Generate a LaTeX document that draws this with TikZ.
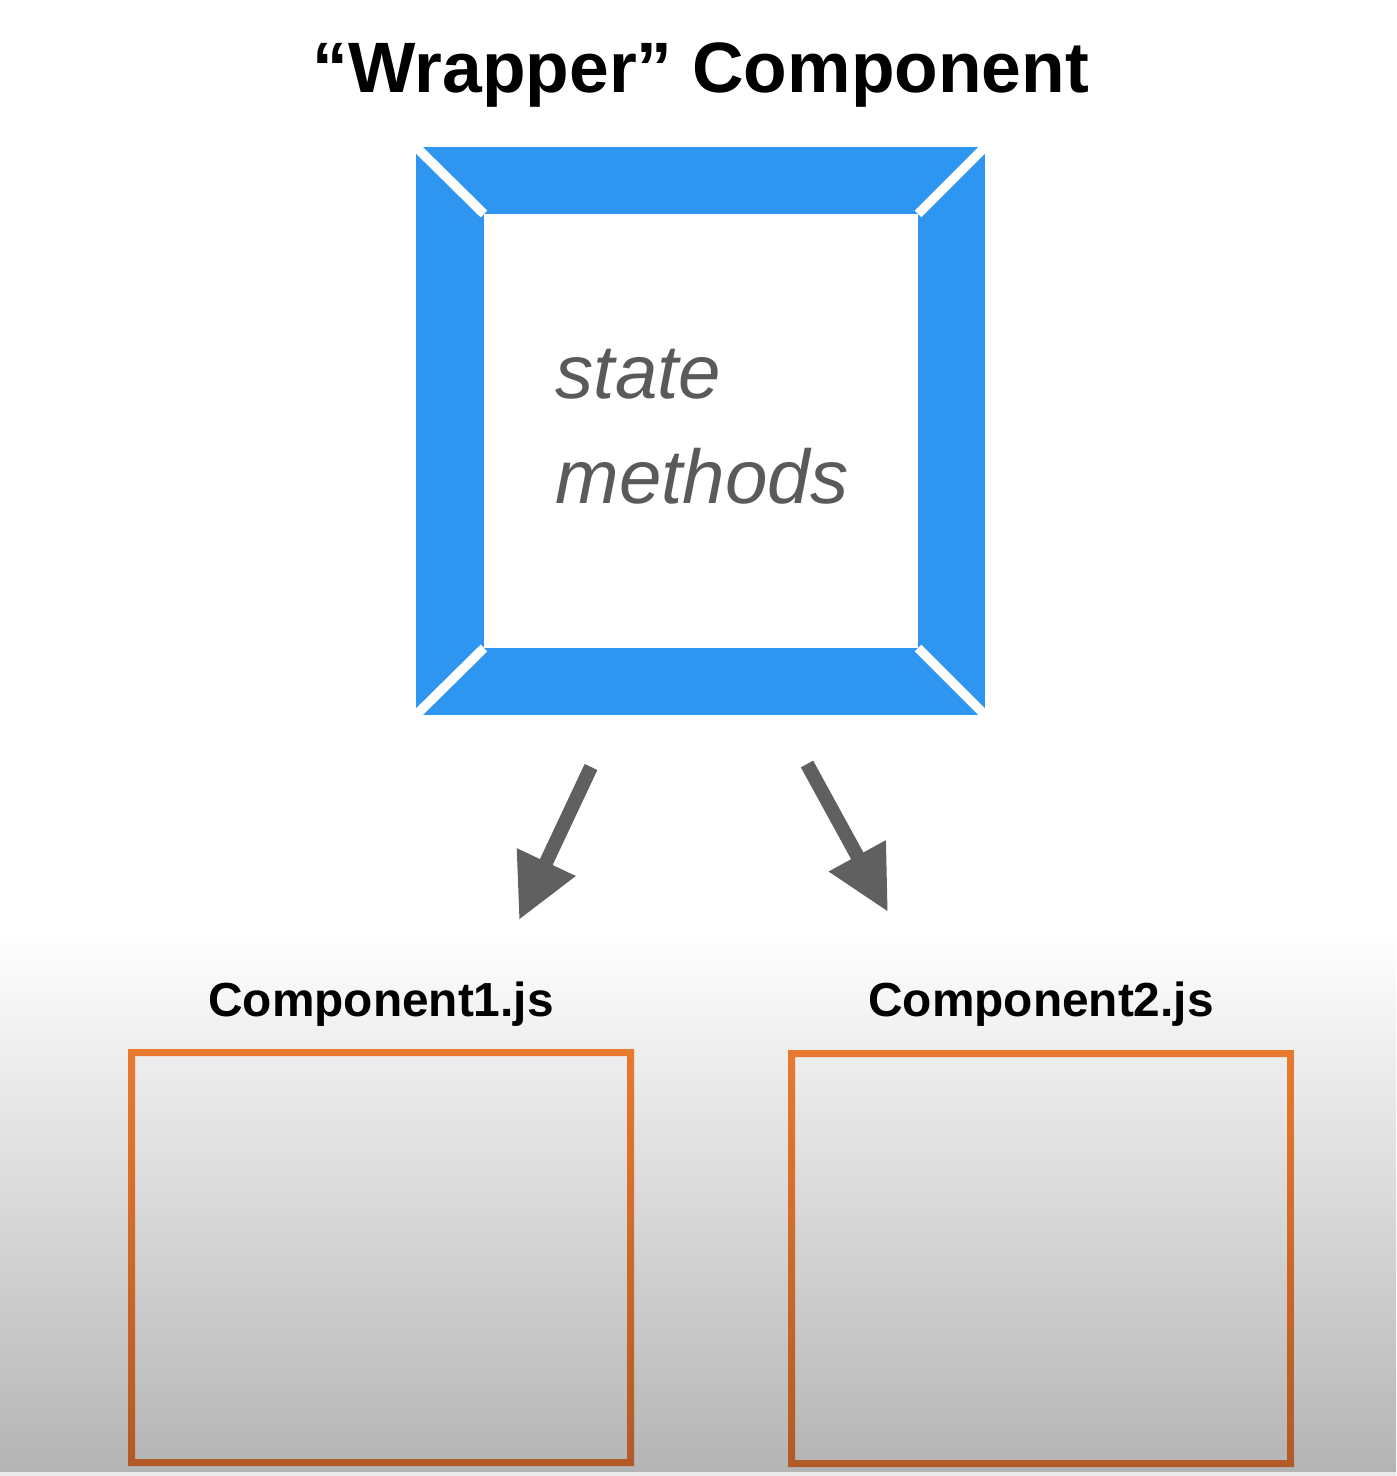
\documentclass[tikz,border=0pt]{standalone}
\usepackage{fontspec}
\setmainfont{Liberation Sans}
\usepackage{tikz}
\usetikzlibrary{arrows.meta}
\definecolor{frameBlue}{RGB}{46,150,241}
\definecolor{textGray}{RGB}{90,90,90}
\definecolor{arrowGray}{RGB}{96,96,96}
\definecolor{orangeTop}{RGB}{232,122,46}
\definecolor{orangeBottom}{RGB}{178,90,38}
\definecolor{shadeBottom}{RGB}{180,180,180}
\tikzstyle{titleText} = [font=\fontsize{20.3}{24}\selectfont\bfseries, anchor=base, inner sep=0pt]
\tikzstyle{labelText} = [font=\fontsize{13.6}{16}\selectfont\bfseries, anchor=base, inner sep=0pt]
\tikzstyle{insideText} = [font=\fontsize{21.7}{26}\selectfont\itshape, color=textGray, anchor=base west, inner sep=0pt]
\tikzstyle{frameGap} = [color=white, line width=0.095cm]
\tikzstyle{pointer} = [color=arrowGray, line width=0.14cm, -{Triangle[width=6.1mm, length=6.4mm]}]
\tikzstyle{boxShade} = [top color=orangeTop, bottom color=orangeBottom, even odd rule]
\newcommand{\gap}{7}
\newcommand{\componentBox}[4]{\shade [boxShade] (#1, #2) rectangle (#3, #4) (#1 + \gap, #2 + \gap) rectangle (#3 - \gap, #4 - \gap);}

\begin{document}
\begin{tikzpicture}[x = 0.01cm, y = -0.01cm]
  \useasboundingbox (0, 0) rectangle (1396, 1476);
  \fill [white] (0, 0) rectangle (1396, 1476);
  \shade [top color=white, bottom color=shadeBottom] (0, 930) rectangle (1396, 1472);
  \fill [black!8] (0, 1472) rectangle (1396, 1476);

  \node [titleText] (title) at (701, 93) {“Wrapper” Component};

  % wrapper frame
  \fill [frameBlue] (416, 147) rectangle (985, 715);
  \fill [white] (484, 214) rectangle (918, 648);
  \draw [frameGap] (412, 143) -- (484, 214);
  \draw [frameGap] (989, 143) -- (918, 214);
  \draw [frameGap] (412, 719) -- (484, 648);
  \draw [frameGap] (989, 719) -- (918, 648);
  \node [insideText] (state) at (555, 398) {state};
  \node [insideText] (methods) at (555, 503) {methods};

  % arrows
  \coordinate (leftFrom) at (591, 767);
  \coordinate (leftTo) at (519, 920);
  \coordinate (rightFrom) at (807, 764);
  \coordinate (rightTo) at (888, 912);
  \draw [pointer] (leftFrom) -- (leftTo);
  \draw [pointer] (rightFrom) -- (rightTo);

  % components
  \node [labelText] (firstLabel) at (381, 1016) {Component1.js};
  \node [labelText] (secondLabel) at (1041, 1016) {Component2.js};
  \componentBox{128}{1049}{634}{1466}
  \componentBox{788}{1050}{1294}{1467}
\end{tikzpicture}
\end{document}
